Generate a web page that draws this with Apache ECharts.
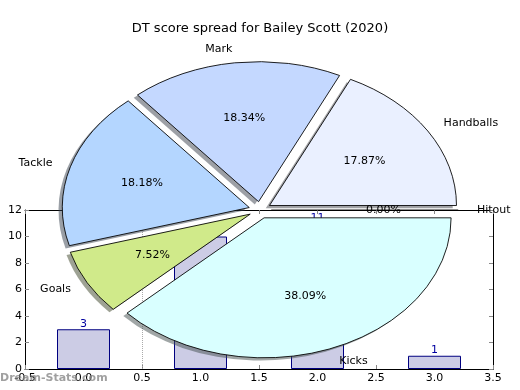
<!DOCTYPE html>
<html>
<head>
<meta charset="utf-8">
<script src="https://cdn.jsdelivr.net/npm/echarts@6/dist/echarts.min.js"></script>
<style>html,body{margin:0;padding:0;background:#fff}#c{width:520px;height:390px}</style>
</head>
<body>
<div id="c"></div>
<script>
// ---- data ----
const titleText = 'DT score spread for Bailey Scott (2020)';
const pieLabels = ['Hitout', 'Handballs', 'Mark', 'Tackle', 'Goals', 'Kicks'];
const piePct = [0.00, 17.87, 18.34, 18.18, 7.52, 38.09];
const barX = [0, 1, 2, 3];
const barValues = [3, 10, 11, 1];
const xTickValues = [-0.5, 0, 0.5, 1, 1.5, 2, 2.5, 3, 3.5];
const yTickValues = [0, 2, 4, 6, 8, 10, 12];
const refLineX = 0.5;
const watermark = 'Dream-Stats.com';

// ---- styles / layout ----
const pieColors = ['#d0d0ff', '#eaf0ff', '#c4d8ff', '#b4d6ff', '#d0ea8a', '#d9ffff'];
const CX = 260, CY = 210, RX = 187, RY = 140;
const EXPLODE = 0.06, SHADOW = 0.02;
const FONT = 'DejaVu Sans';

function shadowOf(hex) {
  const r = parseInt(hex.slice(1, 3), 16), g = parseInt(hex.slice(3, 5), 16), b = parseInt(hex.slice(5, 7), 16);
  return 'rgba(' + Math.round(r * 0.3) + ',' + Math.round(g * 0.3) + ',' + Math.round(b * 0.3) + ',0.5)';
}

const total = piePct.reduce((a, b) => a + b, 0);

function renderSlice(params, api) {
  const i = params.dataIndex;
  const v = api.value(0);
  let start = 0;
  for (let j = 0; j < i; j++) start += piePct[j] / total * 360;
  const sweep = v / total * 360;
  const a1 = start * Math.PI / 180, a2 = (start + sweep) * Math.PI / 180;
  const mid = (a1 + a2) / 2;
  const c = Math.cos(mid), s = Math.sin(mid);
  const K = RY / RX;
  const ox = EXPLODE * RX * c, oy = -EXPLODE * RX * s;
  const inner = [];
  if (sweep > 0) {
    inner.push({
      type: 'sector', z2: 0,
      shape: { cx: CX + ox - SHADOW * RX, cy: oy + SHADOW * RX, r0: 0, r: RX, startAngle: -a1, endAngle: -a2, clockwise: false },
      style: { fill: shadowOf(pieColors[i]), stroke: null }
    });
    inner.push({
      type: 'sector', z2: 10,
      shape: { cx: CX + ox, cy: oy, r0: 0, r: RX, startAngle: -a1, endAngle: -a2, clockwise: false },
      style: { fill: pieColors[i], stroke: '#000', lineWidth: 1, strokeNoScale: true }
    });
  } else {
    inner.push({
      type: 'line', z2: 10,
      shape: { x1: CX + ox, y1: oy, x2: CX + ox + RX * c, y2: oy - RX * s },
      style: { stroke: '#000', lineWidth: 1, strokeNoScale: true }
    });
  }
  const pctR = EXPLODE + 0.6, labR = EXPLODE + 1.1;
  return {
    type: 'group',
    children: [
      { type: 'group', x: 0, y: CY, scaleY: K, children: inner },
      {
        type: 'text', z2: 20,
        x: CX + pctR * RX * c, y: CY - pctR * RY * s,
        style: { text: v.toFixed(2) + '%', fill: '#000', fontSize: 11, fontFamily: FONT, align: 'center', verticalAlign: 'middle' }
      },
      {
        type: 'text', z2: 20,
        x: CX + labR * RX * c, y: CY - labR * RY * s,
        style: { text: pieLabels[i], fill: '#000', fontSize: 11, fontFamily: FONT, align: c >= 0 ? 'left' : 'right', verticalAlign: 'middle' }
      }
    ]
  };
}

const tickStyle = { show: true, inside: true, length: 4, lineStyle: { color: '#888', width: 1 } };
const lineStyle = { show: true, onZero: false, lineStyle: { color: '#000', width: 1 } };
const labelStyle = { color: '#000', fontSize: 11, fontFamily: FONT };

const chart = echarts.init(document.getElementById('c'), null, { renderer: 'canvas' });
chart.setOption({
  animation: false,
  backgroundColor: '#fff',
  title: {
    text: titleText, left: 'center', top: 17,
    textStyle: { fontSize: 13, fontWeight: 'normal', color: '#000', fontFamily: FONT }
  },
  grid: { left: 25, right: 27, top: 210, bottom: 21, containLabel: false },
  xAxis: [
    {
      type: 'value', min: xTickValues[0], max: xTickValues[xTickValues.length - 1], interval: 0.5,
      position: 'bottom', axisLine: lineStyle, axisTick: tickStyle, splitLine: { show: false },
      axisLabel: Object.assign({ margin: 4, showMinLabel: true, showMaxLabel: true, formatter: v => v.toFixed(1) }, labelStyle)
    },
    {
      type: 'value', min: xTickValues[0], max: xTickValues[xTickValues.length - 1], interval: 0.5,
      position: 'top', axisLine: lineStyle, axisTick: tickStyle, splitLine: { show: false }, axisLabel: { show: false }
    }
  ],
  yAxis: [
    {
      type: 'value', min: yTickValues[0], max: yTickValues[yTickValues.length - 1], interval: 2,
      position: 'left', axisLine: lineStyle, axisTick: tickStyle, splitLine: { show: false },
      axisLabel: Object.assign({ margin: 3, showMinLabel: true, showMaxLabel: true }, labelStyle)
    },
    {
      type: 'value', min: yTickValues[0], max: yTickValues[yTickValues.length - 1], interval: 2,
      position: 'right', axisLine: lineStyle, axisTick: tickStyle, splitLine: { show: false }, axisLabel: { show: false }
    }
  ],
  series: [
    {
      type: 'bar', xAxisIndex: 0, yAxisIndex: 0, z: 2,
      barWidth: 53,
      data: barX.map((x, i) => [x, barValues[i]]),
      itemStyle: { color: '#ccccE5', borderColor: '#000080', borderWidth: 1 },
      label: { show: true, position: 'top', distance: 0, color: '#0000a0', fontSize: 11, fontFamily: FONT, formatter: p => String(p.value[1]) },
      markLine: {
        silent: true, symbol: 'none', label: { show: false },
        lineStyle: { type: 'dotted', color: '#aaa', width: 1 },
        data: [{ xAxis: refLineX }]
      }
    },
    {
      type: 'custom', coordinateSystem: 'none', z: 5,
      data: piePct.map(v => [v]),
      renderItem: renderSlice
    }
  ],
  graphic: [
    {
      type: 'text', left: 0, top: 373, z: 10,
      style: { text: watermark, fill: 'rgba(128,128,128,0.75)', fontSize: 11, fontWeight: 'bold', fontFamily: FONT }
    }
  ]
});
</script>
</body>
</html>
